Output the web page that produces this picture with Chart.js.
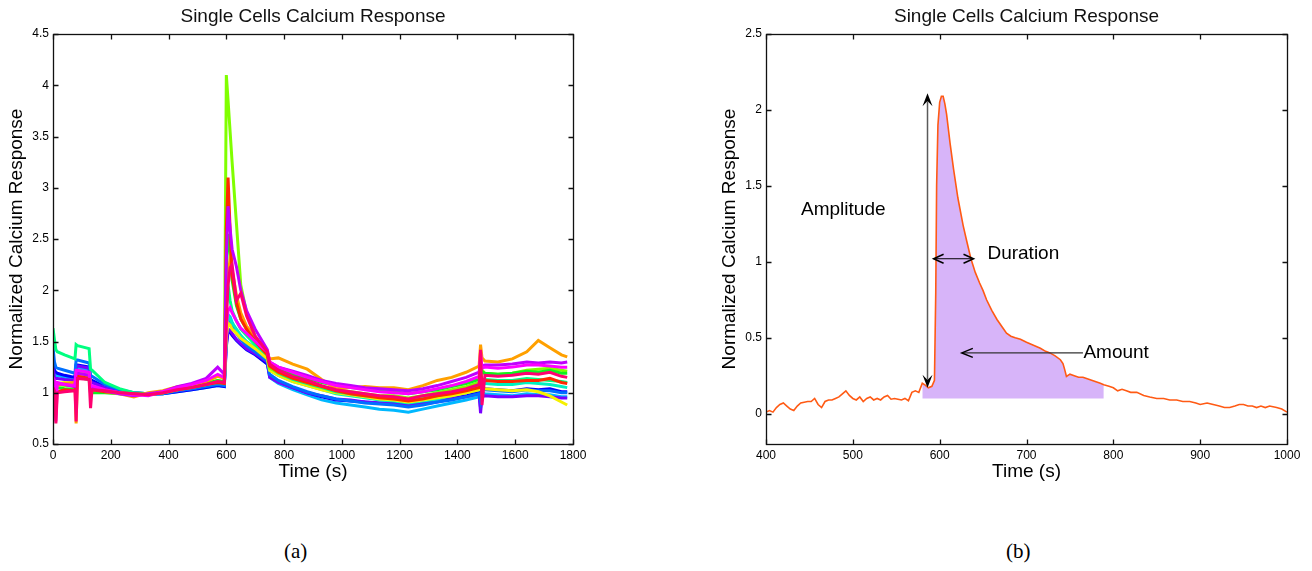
<!DOCTYPE html>
<html>
<head>
<meta charset="utf-8">
<script src="https://cdn.jsdelivr.net/npm/chart.js@4.4.1/dist/chart.umd.min.js"></script>
<style>
body { margin: 0; background: #fff; width: 1312px; height: 571px; position: relative; overflow: hidden; }
canvas { position: absolute; top: 0; }
#cells { left: 0; }
#single { left: 656px; }
.cap { position: absolute; top: 541px; font-family: "Liberation Serif", "DejaVu Serif", serif; font-size: 21px; line-height: 21px; color: #000; }
</style>
</head>
<body>
<canvas id="cells" width="656" height="500"></canvas>
<canvas id="single" width="656" height="500"></canvas>
<div class="cap" style="left:284px">(a)</div>
<div class="cap" style="left:1006px">(b)</div>
<script>
// (a) time points shared by every cell trace (s)
const T = [0, 5, 10, 15, 40, 76, 80, 85, 125, 130, 135,
  180, 230, 280, 330, 380, 430, 480, 530, 570, 593,
  600, 606, 613, 620, 635, 650, 670, 700, 742, 750,
  780, 830, 880, 930, 980, 1030, 1080, 1130, 1180, 1230, 1280, 1330, 1380, 1430, 1475,
  1480, 1485, 1495, 1540, 1590, 1640, 1680, 1720, 1760, 1780];

const cellPink = [1.05, 1.02, 0.70, 1.00, 1.01, 1.02, 0.72, 1.14, 1.13, 0.85, 1.03,
  1.02, 1.00, 0.99, 0.98, 1.00, 1.03, 1.05, 1.08, 1.11, 1.10,
  1.70, 2.05, 2.22, 2.25, 1.90, 1.97, 1.75, 1.55, 1.40, 1.28,
  1.22, 1.16, 1.12, 1.07, 1.03, 1.01, 0.99, 0.97, 0.96, 0.94, 0.97, 0.99, 1.01, 1.04, 1.08,
  1.42, 0.88, 1.17, 1.16, 1.17, 1.19, 1.18, 1.20, 1.16, 1.15];
const cellMagenta = [1.15, 1.12, 0.72, 1.10, 1.08, 1.07, 1.22, 1.22, 1.20, 1.06, 1.07,
  1.03, 1.00, 0.98, 0.97, 1.01, 1.05, 1.08, 1.12, 1.18, 1.15,
  1.65, 1.80, 1.83, 1.78, 1.70, 1.63, 1.58, 1.50, 1.40, 1.30,
  1.25, 1.20, 1.15, 1.11, 1.07, 1.05, 1.03, 1.01, 1.00, 0.99, 1.01, 1.04, 1.07, 1.11, 1.16,
  1.40, 1.24, 1.25, 1.24, 1.25, 1.27, 1.27, 1.26, 1.25, 1.25];
const cellPurple = [1.12, 1.10, 1.08, 1.09, 1.08, 1.06, 1.20, 1.19, 1.17, 1.03, 1.05,
  1.02, 0.99, 0.97, 0.99, 1.01, 1.06, 1.09, 1.14, 1.25, 1.18,
  2.30, 2.82, 2.60, 2.40, 2.23, 2.00, 1.80, 1.62, 1.42, 1.30,
  1.25, 1.21, 1.17, 1.12, 1.09, 1.07, 1.05, 1.04, 1.03, 1.02, 1.04, 1.07, 1.11, 1.15, 1.20,
  1.30, 1.26, 1.27, 1.27, 1.28, 1.30, 1.29, 1.30, 1.29, 1.30];
const cellRed = [1.02, 1.00, 0.99, 1.01, 1.03, 1.02, 1.15, 1.16, 1.14, 1.02, 1.03,
  1.01, 1.00, 0.99, 0.98, 1.00, 1.03, 1.05, 1.08, 1.10, 1.09,
  2.60, 3.10, 2.60, 2.15, 1.88, 1.72, 1.62, 1.50, 1.37, 1.26,
  1.20, 1.14, 1.10, 1.06, 1.02, 0.99, 0.97, 0.95, 0.94, 0.92, 0.94, 0.97, 0.99, 1.02, 1.05,
  1.20, 1.12, 1.12, 1.11, 1.11, 1.12, 1.12, 1.14, 1.10, 1.09];
const cellOrange = [1.08, 1.06, 1.05, 1.07, 1.09, 1.10, 0.70, 1.18, 1.17, 1.08, 1.05,
  1.01, 0.99, 0.96, 1.00, 1.02, 1.06, 1.08, 1.11, 1.16, 1.14,
  1.90, 2.15, 2.30, 2.20, 1.95, 1.78, 1.65, 1.55, 1.38, 1.33,
  1.34, 1.28, 1.23, 1.13, 1.04, 1.05, 1.06, 1.05, 1.05, 1.03, 1.07, 1.12, 1.15, 1.20, 1.26,
  1.47, 1.34, 1.31, 1.30, 1.33, 1.40, 1.51, 1.44, 1.37, 1.35];
const cellGreen = [1.06, 1.04, 1.03, 1.05, 1.04, 1.03, 1.14, 1.15, 1.13, 0.99, 1.00,
  1.00, 0.99, 0.98, 0.99, 1.00, 1.04, 1.06, 1.09, 1.12, 1.11,
  2.20, 2.55, 2.40, 2.10, 1.85, 1.72, 1.62, 1.52, 1.40, 1.28,
  1.23, 1.18, 1.14, 1.10, 1.07, 1.05, 1.04, 1.02, 1.01, 0.99, 1.01, 1.03, 1.06, 1.09, 1.13,
  1.25, 1.20, 1.19, 1.18, 1.19, 1.21, 1.20, 1.22, 1.19, 1.19];
const cellLime = [1.10, 1.08, 1.07, 1.08, 1.07, 1.06, 1.19, 1.20, 1.18, 1.05, 1.04,
  1.01, 1.00, 0.98, 0.99, 1.00, 1.04, 1.06, 1.09, 1.12, 1.10,
  4.10, 3.85, 3.55, 3.25, 2.65, 2.05, 1.78, 1.55, 1.36, 1.24,
  1.20, 1.15, 1.10, 1.06, 1.03, 1.01, 0.99, 0.97, 0.97, 0.95, 0.97, 1.00, 1.03, 1.06, 1.10,
  1.15, 1.22, 1.19, 1.18, 1.19, 1.22, 1.23, 1.24, 1.22, 1.21];
const cellSpring = [1.63, 1.52, 1.42, 1.40, 1.37, 1.33, 1.47, 1.46, 1.43, 1.23, 1.22,
  1.10, 1.04, 1.00, 0.99, 1.00, 1.03, 1.05, 1.08, 1.11, 1.10,
  1.85, 2.05, 1.90, 1.80, 1.70, 1.62, 1.56, 1.47, 1.37, 1.25,
  1.19, 1.13, 1.09, 1.05, 1.01, 0.99, 0.97, 0.96, 0.95, 0.93, 0.95, 0.97, 1.00, 1.03, 1.06,
  1.10, 1.13, 1.13, 1.12, 1.12, 1.14, 1.13, 1.12, 1.11, 1.10];
const cellYellow = [1.10, 1.09, 1.08, 1.09, 1.10, 1.09, 1.20, 1.21, 1.19, 1.06, 1.05,
  1.02, 1.00, 0.98, 0.98, 1.00, 1.03, 1.06, 1.08, 1.11, 1.10,
  1.55, 1.68, 1.66, 1.62, 1.58, 1.53, 1.49, 1.43, 1.33, 1.22,
  1.17, 1.11, 1.07, 1.03, 1.00, 0.98, 0.96, 0.94, 0.93, 0.91, 0.93, 0.95, 0.97, 1.00, 1.03,
  1.08, 1.05, 1.04, 1.03, 1.02, 1.03, 1.01, 0.97, 0.91, 0.88];
const cellTeal = [1.12, 1.10, 1.08, 1.09, 1.08, 1.07, 1.18, 1.18, 1.16, 1.04, 1.04,
  1.01, 1.00, 0.99, 0.98, 1.00, 1.03, 1.05, 1.08, 1.10, 1.09,
  1.60, 1.75, 1.72, 1.68, 1.62, 1.56, 1.50, 1.44, 1.35, 1.22,
  1.17, 1.11, 1.07, 1.03, 0.99, 0.97, 0.95, 0.93, 0.92, 0.90, 0.92, 0.94, 0.97, 1.00, 1.03,
  1.10, 1.09, 1.09, 1.08, 1.08, 1.10, 1.09, 1.08, 1.06, 1.05];
const cellAzure = [1.45, 1.30, 1.25, 1.24, 1.22, 1.19, 1.32, 1.32, 1.29, 1.17, 1.16,
  1.08, 1.03, 1.00, 0.99, 0.99, 1.02, 1.04, 1.06, 1.08, 1.07,
  1.55, 1.72, 1.70, 1.66, 1.58, 1.52, 1.46, 1.40, 1.31, 1.18,
  1.12, 1.06, 1.01, 0.97, 0.94, 0.92, 0.90, 0.89, 0.88, 0.86, 0.88, 0.91, 0.93, 0.96, 0.99,
  0.92, 1.04, 1.03, 1.02, 1.01, 1.03, 1.02, 1.02, 1.00, 1.00];
const cellViolet = [1.25, 1.15, 1.14, 1.14, 1.13, 1.12, 1.26, 1.26, 1.24, 1.10, 1.10,
  1.05, 1.01, 0.99, 0.98, 1.00, 1.02, 1.04, 1.07, 1.09, 1.08,
  1.48, 1.62, 1.61, 1.58, 1.52, 1.48, 1.43, 1.38, 1.30, 1.15,
  1.10, 1.05, 1.00, 0.97, 0.94, 0.93, 0.91, 0.90, 0.89, 0.87, 0.89, 0.91, 0.94, 0.96, 0.99,
  0.80, 0.96, 0.97, 0.96, 0.96, 0.97, 0.97, 0.96, 0.95, 0.95];
const cellBlue = [1.38, 1.22, 1.20, 1.19, 1.17, 1.15, 1.27, 1.27, 1.25, 1.13, 1.12,
  1.06, 1.02, 1.00, 0.99, 0.99, 1.01, 1.03, 1.05, 1.07, 1.06,
  1.45, 1.60, 1.59, 1.56, 1.51, 1.47, 1.42, 1.37, 1.28, 1.17,
  1.11, 1.05, 1.00, 0.96, 0.93, 0.92, 0.91, 0.90, 0.90, 0.89, 0.91, 0.93, 0.95, 0.97, 1.01,
  0.85, 1.06, 1.04, 1.03, 1.02, 1.04, 1.03, 1.04, 1.01, 1.01];
const cellSky = [1.20, 1.18, 1.16, 1.17, 1.15, 1.12, 1.24, 1.24, 1.22, 1.10, 1.10,
  1.05, 1.01, 0.99, 0.98, 0.99, 1.01, 1.03, 1.05, 1.07, 1.06,
  1.60, 1.76, 1.74, 1.69, 1.60, 1.53, 1.46, 1.38, 1.28, 1.15,
  1.09, 1.03, 0.98, 0.93, 0.90, 0.88, 0.86, 0.84, 0.83, 0.81, 0.84, 0.87, 0.90, 0.93, 0.96,
  0.90, 1.00, 0.99, 0.98, 0.97, 0.99, 0.98, 0.98, 0.96, 0.96];

// (b) one cell, zoomed in
const traceT = [400, 404, 408, 412, 416, 420, 424, 428, 432, 436, 440, 444, 448, 452, 456,
  460, 464, 468, 472, 476, 480, 484, 488, 492, 496, 500, 504, 508, 512, 516,
  520, 524, 528, 532, 536, 540, 544, 548, 552, 556, 560, 564, 568, 572, 576,
  580, 583, 587, 591, 594,
  595.5, 596.5, 598, 600, 602, 604, 606, 608,
  612, 616, 621, 627, 631, 636, 641, 646, 650, 654,
  660, 666, 672, 677, 682, 687, 693, 700,
  708, 716, 722, 727, 733, 739, 742, 744, 746, 750,
  755, 760, 765, 770, 775, 780, 785, 789, 795, 800,
  805, 810, 815, 820, 827, 835, 842, 850, 858, 865,
  873, 880, 888, 895, 900, 908, 915, 922, 928, 934,
  940, 945, 950, 955, 960, 965, 970, 975, 980, 988,
  994, 1000];
const traceV = [0.01, 0.02, 0.01, 0.04, 0.06, 0.07, 0.05, 0.03, 0.02, 0.05, 0.07, 0.075, 0.08, 0.08, 0.10,
  0.06, 0.04, 0.08, 0.09, 0.09, 0.10, 0.11, 0.13, 0.15, 0.12, 0.10, 0.09, 0.11, 0.08, 0.10,
  0.11, 0.09, 0.10, 0.09, 0.11, 0.12, 0.095, 0.10, 0.095, 0.09, 0.10, 0.085, 0.14, 0.15, 0.14,
  0.20, 0.19, 0.17, 0.18, 0.22,
  0.80, 1.50, 1.90, 2.05, 2.09, 2.09, 2.04, 1.97,
  1.78, 1.61, 1.42, 1.24, 1.14, 1.02, 0.93, 0.86, 0.81, 0.75,
  0.68, 0.62, 0.57, 0.53, 0.51, 0.50, 0.49, 0.47,
  0.45, 0.43, 0.41, 0.40, 0.38, 0.355, 0.33, 0.29, 0.245, 0.26,
  0.25, 0.24, 0.24, 0.23, 0.22, 0.21, 0.20, 0.19, 0.18, 0.17,
  0.15, 0.16, 0.15, 0.14, 0.14, 0.12, 0.11, 0.10, 0.10, 0.09,
  0.09, 0.08, 0.08, 0.07, 0.06, 0.07, 0.06, 0.05, 0.04, 0.04,
  0.05, 0.06, 0.06, 0.05, 0.05, 0.04, 0.05, 0.04, 0.05, 0.04,
  0.03, 0.01];

// shaded "amount" region: trace between these times, down to this level
const amountFrom = 580, amountTo = 789, amountBase = 0.1;

Chart.defaults.font.family = '"Liberation Sans", Arial, Helvetica, sans-serif';
Chart.defaults.color = '#000';

const cellSeries = [cellPink, cellMagenta, cellPurple, cellRed, cellOrange, cellGreen, cellLime,
  cellSpring, cellYellow, cellTeal, cellAzure, cellViolet, cellBlue, cellSky];
const cellColors = ['#ff0070', '#ff00ff', '#c000ff', '#ff2a00', '#ffa000', '#10f020', '#80ff00',
  '#00ff80', '#f5f000', '#00f0c0', '#0070ff', '#7a00ff', '#0000ff', '#00b8ff'];

// MATLAB-like box with inward ticks on all four sides
const boxTicks = {
  id: 'boxTicks',
  afterDatasetsDraw(chart) {
    const { ctx, chartArea: a, scales: { x, y } } = chart;
    const L = Math.round(a.left) + 0.5, R = Math.round(a.right) + 0.5;
    const Tp = Math.round(a.top) + 0.5, B = Math.round(a.bottom) + 0.5;
    ctx.save();
    ctx.strokeStyle = '#111';
    ctx.lineWidth = 1.3;
    ctx.strokeRect(L, Tp, R - L, B - Tp);
    ctx.beginPath();
    x.ticks.forEach(t => {
      const p = Math.round(x.getPixelForValue(t.value)) + 0.5;
      ctx.moveTo(p, B); ctx.lineTo(p, B - 5);
      ctx.moveTo(p, Tp); ctx.lineTo(p, Tp + 5);
    });
    y.ticks.forEach(t => {
      const p = Math.round(y.getPixelForValue(t.value)) + 0.5;
      ctx.moveTo(L, p); ctx.lineTo(L + 5, p);
      ctx.moveTo(R, p); ctx.lineTo(R - 5, p);
    });
    ctx.stroke();
    ctx.restore();
  }
};

function stealth(ctx, x, y, ang, len, half) {
  ctx.save();
  ctx.translate(x, y);
  ctx.rotate(ang);
  ctx.beginPath();
  ctx.moveTo(0, 0);
  ctx.lineTo(-len, -half);
  ctx.lineTo(-len * 0.6, 0);
  ctx.lineTo(-len, half);
  ctx.closePath();
  ctx.fillStyle = '#000';
  ctx.fill();
  ctx.restore();
}

function chevron(ctx, x, y, ang, len, half) {
  ctx.save();
  ctx.translate(x, y);
  ctx.rotate(ang);
  ctx.beginPath();
  ctx.moveTo(-len, -half);
  ctx.lineTo(0, 0);
  ctx.lineTo(-len, half);
  ctx.strokeStyle = '#000';
  ctx.lineWidth = 1.5;
  ctx.stroke();
  ctx.restore();
}

// annotations for panel (b), in data units
const notes = {
  amplitude: { x: 586, y0: 0.17, y1: 2.11 },
  duration: { y: 1.02, x0: 593, x1: 639 },
  amount: { y: 0.40, tip: 625.5, tail: 765 },
  labels: [
    { text: 'Amplitude', x: 489, y: 1.34, align: 'center' },
    { text: 'Duration', x: 655, y: 1.05, align: 'left' },
    { text: 'Amount', x: 765.5, y: 0.403, align: 'left' }
  ]
};

const marks = {
  id: 'marks',
  afterDatasetsDraw(chart) {
    const { ctx, scales: { x, y } } = chart;
    const X = v => x.getPixelForValue(v), Y = v => y.getPixelForValue(v);
    ctx.save();
    const a = notes.amplitude;
    ctx.strokeStyle = '#5a5a5a';
    ctx.lineWidth = 1.5;
    ctx.beginPath();
    ctx.moveTo(X(a.x), Y(a.y0) - 8);
    ctx.lineTo(X(a.x), Y(a.y1) + 8);
    ctx.stroke();
    stealth(ctx, X(a.x), Y(a.y1), -Math.PI / 2, 13, 5);
    stealth(ctx, X(a.x), Y(a.y0), Math.PI / 2, 13, 5);

    const d = notes.duration;
    ctx.strokeStyle = '#000';
    ctx.lineWidth = 1;
    ctx.beginPath();
    ctx.moveTo(X(d.x0), Y(d.y));
    ctx.lineTo(X(d.x1), Y(d.y));
    ctx.stroke();
    chevron(ctx, X(d.x0), Y(d.y), Math.PI, 10, 4.5);
    chevron(ctx, X(d.x1), Y(d.y), 0, 10, 4.5);

    const m = notes.amount;
    ctx.beginPath();
    ctx.moveTo(X(m.tip), Y(m.y));
    ctx.lineTo(X(m.tail), Y(m.y));
    ctx.strokeStyle = '#333';
    ctx.lineWidth = 1.1;
    ctx.stroke();
    chevron(ctx, X(m.tip), Y(m.y), Math.PI, 11, 4.5);

    ctx.fillStyle = '#000';
    ctx.font = '19px "Liberation Sans", Arial, sans-serif';
    ctx.textBaseline = 'middle';
    notes.labels.forEach(l => {
      ctx.textAlign = l.align;
      ctx.fillText(l.text, X(l.x), Y(l.y));
    });
    ctx.restore();
  }
};

function axes(xMin, xMax, xStep, yMin, yMax, yStep, yWidth, yTitlePad) {
  return {
    x: {
      type: 'linear', min: xMin, max: xMax,
      grid: { display: false, drawTicks: false }, border: { display: false },
      ticks: { stepSize: xStep, padding: 4, autoSkip: false, maxRotation: 0, font: { size: 12 }, callback: v => String(v) },
      title: { display: true, text: 'Time (s)', font: { size: 19 }, padding: { top: 0, bottom: 16.6 } },
      afterFit: s => { s.height = 56; }
    },
    y: {
      type: 'linear', min: yMin, max: yMax,
      grid: { display: false, drawTicks: false }, border: { display: false },
      ticks: { stepSize: yStep, padding: 4, includeBounds: false, autoSkip: false, font: { size: 12 }, callback: v => String(v) },
      title: { display: true, text: 'Normalized Calcium Response', font: { size: 19 }, padding: { top: yTitlePad, bottom: 0 } },
      afterFit: s => { s.width = yWidth; }
    }
  };
}

function baseOptions(padRight, scales) {
  return {
    responsive: false,
    animation: false,
    events: [],
    layout: { padding: { left: 0, right: padRight, top: 0, bottom: 0 } },
    plugins: {
      legend: { display: false },
      tooltip: { enabled: false },
      title: {
        display: true, text: 'Single Cells Calcium Response', fullSize: false, color: '#111',
        font: { size: 19, weight: 'normal' }, padding: { top: 5.6, bottom: 5.6 }
      }
    },
    scales
  };
}

new Chart(document.getElementById('cells'), {
  type: 'line',
  data: {
    datasets: cellSeries.map((vals, i) => ({
      data: vals.map((v, j) => ({ x: T[j], y: v })),
      borderColor: cellColors[i],
      borderWidth: 3,
      pointRadius: 0,
      tension: 0,
      fill: false
    }))
  },
  options: baseOptions(83, axes(0, 1800, 200, 0.5, 4.5, 0.5, 53, 5.6)),
  plugins: [boxTicks]
});

const tracePts = traceT.map((t, i) => ({ x: t, y: traceV[i] }));

new Chart(document.getElementById('single'), {
  type: 'line',
  data: {
    datasets: [
      {
        data: tracePts,
        borderColor: '#ff5a14',
        borderWidth: 1.6,
        pointRadius: 0,
        tension: 0,
        fill: false
      },
      {
        data: tracePts.filter(p => p.x >= amountFrom && p.x <= amountTo),
        borderWidth: 0,
        borderColor: 'rgba(0,0,0,0)',
        backgroundColor: '#d7b4f9',
        pointRadius: 0,
        tension: 0,
        fill: { value: amountBase }
      }
    ]
  },
  options: baseOptions(25, axes(400, 1000, 100, -0.2, 2.5, 0.5, 110, 62.1)),
  plugins: [marks, boxTicks]
});
</script>
</body>
</html>
